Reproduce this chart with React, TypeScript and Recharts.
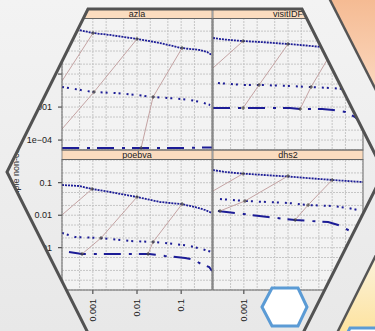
import React from 'react';
import { LineChart, Line, XAxis, YAxis, CartesianGrid } from 'recharts';

const X_MIN = 2e-4;
const X_MAX = 0.5;
const Y_MIN = 5e-5;
const Y_MAX = 0.5;
const gridX = [2e-4, 5e-4, 1e-3, 2e-3, 5e-3, 1e-2, 2e-2, 5e-2, 0.1, 0.2, 0.5];
const gridY = [5e-5, 1e-4, 2e-4, 5e-4, 1e-3, 2e-3, 5e-3, 1e-2, 2e-2, 5e-2, 0.1, 0.2, 0.5];
const xTickValues = [1e-3, 1e-2, 1e-1];
const xTickLabels = ['0.001', '0.01', '0.1'];
const yTickValues = [1e-4, 1e-3, 1e-2, 1e-1];
const yTickLabels = ['1e\u221204', '0.001', '0.01', '0.1'];
const panelNames = ['azla', 'visitIDF', 'poebva', 'dhs2'];
const yTitle = 'Sample non-coverage';

type Pt = [number, number];

// azla
const azlaTop: Pt[] = [[2e-4, 0.249], [4.85e-4, 0.216], [1.01e-3, 0.175], [2.45e-3, 0.153], [0.01, 0.116], [0.0333, 0.0873], [0.1, 0.0617], [0.269, 0.0536], [0.388, 0.0467], [0.5, 0.0379]];
const azlaMid: Pt[] = [[2e-4, 0.00406], [1.01e-3, 0.00286], [3.18e-3, 0.00267], [0.01, 0.00232], [0.0231, 0.00202], [0.1, 0.00176], [0.16, 0.00164], [0.269, 0.00143], [0.454, 0.00116]];
const azlaLow: Pt[] = [[2e-4, 5.75e-5], [0.01, 5.75e-5], [0.1, 5.75e-5], [0.5, 6.0e-5]];
const azlaLinks: Pt[][] = [
  [[2e-4, 0.00617], [1.01e-3, 0.175]],
  [[2e-4, 2.16e-4], [1.06e-3, 0.00286], [0.01, 0.116]],
  [[0.0124, 5.75e-5], [0.0231, 0.00202], [0.105, 0.0617]],
];

// visitIDF
const visitTop: Pt[] = [[2e-4, 0.124], [3.74e-4, 0.111], [9.6e-4, 0.1], [2.33e-3, 0.0937], [0.01, 0.0815], [0.0188, 0.076], [0.0593, 0.0661], [0.152, 0.0575], [0.5, 0.05]];
const visitMid: Pt[] = [[2.59e-4, 0.00536], [9.6e-4, 0.00467], [2.33e-3, 0.00467], [0.0111, 0.00435], [0.0317, 0.00406], [0.09, 0.00378], [0.197, 0.00352], [0.5, 0.00329]];
const visitLow: Pt[] = [[2e-4, 9.37e-4], [9.6e-4, 9.37e-4], [0.0111, 9.37e-4], [0.0188, 8.75e-4], [0.0593, 8.75e-4], [0.105, 8.15e-4], [0.2, 7.1e-4], [0.332, 5.0e-4], [0.5, 2.86e-4]];
const visitLinks: Pt[][] = [
  [[2e-4, 0.0153], [9.6e-4, 0.1]],
  [[9.6e-4, 9.37e-4], [2.21e-3, 0.00467], [0.01, 0.0815]],
  [[0.0188, 8.75e-4], [0.0333, 0.00406], [0.111, 0.0617]],
];

// poebva
const poebvaTop: Pt[] = [[2e-4, 0.0851], [4.85e-4, 0.0793], [9.6e-4, 0.0641], [2.45e-3, 0.0518], [0.01, 0.0364], [0.0333, 0.0255], [0.1, 0.0221], [0.207, 0.0179], [0.35, 0.0145], [0.5, 0.0117]];
const poebvaMid: Pt[] = [[2e-4, 0.00284], [3.94e-4, 0.00214], [1.46e-3, 0.00199], [6.97e-3, 0.00161], [0.0244, 0.0015], [0.073, 0.0013], [0.16, 0.00113], [0.35, 8.51e-4], [0.5, 7.38e-4]];
const poebvaLow: Pt[] = [[2.88e-4, 7.38e-4], [5.69e-4, 6.41e-4], [6.97e-3, 6.41e-4], [0.0188, 6.41e-4], [0.0434, 5.56e-4], [0.123, 4.83e-4], [0.207, 4.19e-4], [0.256, 3.39e-4], [0.431, 2.55e-4], [0.5, 1.92e-4]];
const poebvaLinks: Pt[][] = [
  [[2e-4, 0.0102], [9.6e-4, 0.0641]],
  [[5.69e-4, 6.41e-4], [1.53e-3, 0.00199], [0.01, 0.0364]],
  [[0.0178, 6.41e-4], [0.0231, 0.0015], [0.105, 0.0221]],
];

// dhs2
const dhs2Top: Pt[] = [[2e-4, 0.246], [3.74e-4, 0.214], [9.6e-4, 0.19], [0.01, 0.155], [0.105, 0.121], [0.5, 0.105]];
const dhs2Mid: Pt[] = [[2.88e-4, 0.0316], [1.06e-3, 0.0274], [0.01, 0.0238], [0.0285, 0.0206], [0.1, 0.0192], [0.23, 0.0167], [0.479, 0.0135]];
const dhs2Low: Pt[] = [[2.59e-4, 0.0135], [9.6e-4, 0.0109], [3.53e-3, 0.00881], [0.0145, 0.00713], [0.0317, 0.00664], [0.0811, 0.00618], [0.137, 0.005], [0.23, 0.00351], [0.284, 0.00305], [0.5, 0.00173]];
const dhs2Links: Pt[][] = [
  [[2e-4, 0.0556], [9.6e-4, 0.19]],
  [[2.88e-4, 0.0135], [1.06e-3, 0.0274], [0.01, 0.161]],
  [[0.0145, 0.00713], [0.0285, 0.0206], [0.1, 0.121]],
];

const FONT = '"Liberation Sans", Arial, Helvetica, sans-serif';
const BLUE = '#1c1c96';
const PINK = '#c4a3a3';

const toData = (pts: Pt[]) => pts.map(([x, y]) => ({ x, y }));

const XTick = (props: any) => {
  const { x, y, payload } = props;
  const i = xTickValues.indexOf(payload.value);
  if (i < 0) return <g />;
  const ty = y + 9;
  return (
    <g>
      <line x1={x} x2={x} y1={y} y2={y + 4} stroke="#333" strokeWidth={1} />
      <text x={x} y={ty} transform={`rotate(-90 ${x} ${ty})`} textAnchor="end" dominantBaseline="central" fontSize={9} fill="#222" fontFamily={FONT}>
        {xTickLabels[i]}
      </text>
    </g>
  );
};

const YTick = (props: any) => {
  const { x, y, payload } = props;
  const i = yTickValues.indexOf(payload.value);
  if (i < 0) return <g />;
  return (
    <g>
      <line x1={x - 4} x2={x} y1={y} y2={y} stroke="#333" strokeWidth={1} />
      <text x={x - 10} y={y} textAnchor="end" dominantBaseline="central" fontSize={9} fill="#222" fontFamily={FONT}>
        {yTickLabels[i]}
      </text>
    </g>
  );
};

const plus = (props: any) => {
  const { cx, cy, payload, index } = props;
  if (payload.x <= X_MIN || cx == null) return <g key={`p${index}`} />;
  return (
    <path key={`p${index}`} d={`M${cx - 2},${cy}H${cx + 2}M${cx},${cy - 2}V${cy + 2}`} stroke="#444" strokeWidth={0.9} fill="none" />
  );
};

type PanelProps = { col: number; row: number; top: Pt[]; mid: Pt[]; low: Pt[]; links: Pt[][] };

function Panel({ col, row, top, mid, low, links }: PanelProps) {
  const isLeft = col === 0;
  const isBottom = row === 1;
  const w = 150 + (isLeft ? 62 : 0);
  const h = (row === 0 ? 132 : 130) + (isBottom ? 40 : 0);
  return (
    <div style={{ position: 'absolute', left: isLeft ? 0 : 213, top: row === 0 ? 18 : 160 }}>
      <LineChart width={w} height={h} margin={{ top: 0, right: 0, bottom: 0, left: 0 }}>
        <CartesianGrid
          fill="#f3f3f3"
          fillOpacity={1}
          stroke="#c6c6c6"
          strokeDasharray="2 1"
          horizontalValues={gridY}
          verticalValues={gridX}
        />
        <XAxis
          dataKey="x"
          type="number"
          scale="log"
          domain={[X_MIN, X_MAX]}
          allowDataOverflow
          ticks={gridX}
          interval={0}
          hide={!isBottom}
          height={isBottom ? 40 : 0}
          tick={<XTick />}
          tickLine={false}
          axisLine={false}
          tickSize={0}
          tickMargin={0}
        />
        <YAxis
          dataKey="y"
          type="number"
          scale="log"
          domain={[Y_MIN, Y_MAX]}
          allowDataOverflow
          ticks={gridY}
          interval={0}
          hide={!isLeft}
          width={62}
          tick={<YTick />}
          tickLine={false}
          axisLine={false}
          tickSize={0}
          tickMargin={0}
        />
        <Line data={toData(low)} dataKey="y" type="linear" stroke={BLUE} strokeWidth={2} strokeDasharray="17 8 3 7" dot={false} activeDot={false} isAnimationActive={false} />
        <Line data={toData(mid)} dataKey="y" type="linear" stroke={BLUE} strokeWidth={2} strokeDasharray="2 3 2 6" dot={false} activeDot={false} isAnimationActive={false} />
        <Line data={toData(top)} dataKey="y" type="linear" stroke={BLUE} strokeWidth={1.8} strokeDasharray="2 1" dot={false} activeDot={false} isAnimationActive={false} />
        {links.map((l, i) => (
          <Line key={i} data={toData(l)} dataKey="y" type="linear" stroke={PINK} strokeWidth={1} dot={plus} activeDot={false} isAnimationActive={false} />
        ))}
      </LineChart>
    </div>
  );
}

const HEX = 'M88,9 L302,9 L384,172 L302,335 L89,335 L7,172 Z';

export default function App() {
  const strips = [
    { x: 62, y: 9 },
    { x: 213, y: 9 },
    { x: 62, y: 150 },
    { x: 213, y: 150 },
  ];
  return (
    <div
      style={{
        position: 'absolute',
        left: 0,
        top: 0,
        width: 375,
        height: 331,
        overflow: 'hidden',
        background: 'linear-gradient(to bottom, #f3f3f3, #e8e8e8)',
        fontFamily: FONT,
      }}
    >
      <Panel col={0} row={0} top={azlaTop} mid={azlaMid} low={azlaLow} links={azlaLinks} />
      <Panel col={1} row={0} top={visitTop} mid={visitMid} low={visitLow} links={visitLinks} />
      <Panel col={0} row={1} top={poebvaTop} mid={poebvaMid} low={poebvaLow} links={poebvaLinks} />
      <Panel col={1} row={1} top={dhs2Top} mid={dhs2Mid} low={dhs2Low} links={dhs2Links} />
      <svg width={375} height={331} style={{ position: 'absolute', left: 0, top: 0, pointerEvents: 'none' }}>
        <defs>
          <linearGradient id="bg" x1="0" y1="0" x2="0" y2="331" gradientUnits="userSpaceOnUse">
            <stop offset="0" stopColor="#f3f3f3" />
            <stop offset="1" stopColor="#e8e8e8" />
          </linearGradient>
          <linearGradient id="orange" x1="0" y1="0" x2="0" y2="90" gradientUnits="userSpaceOnUse">
            <stop offset="0" stopColor="#f5bb93" />
            <stop offset="1" stopColor="#fbd8bf" />
          </linearGradient>
          <linearGradient id="yellow" x1="0" y1="250" x2="0" y2="331" gradientUnits="userSpaceOnUse">
            <stop offset="0" stopColor="#fbf4e0" />
            <stop offset="1" stopColor="#fde3a0" />
          </linearGradient>
        </defs>
        {strips.map((s, i) => (
          <g key={i}>
            <rect x={s.x} y={s.y} width={150} height={9.5} fill="#fbdcbf" stroke="#777" strokeWidth={0.8} />
            <text x={s.x + 75} y={s.y + 5} textAnchor="middle" dominantBaseline="central" fontSize={9} fill="#222" fontFamily={FONT}>
              {panelNames[i]}
            </text>
          </g>
        ))}
        <rect x={62} y={18.5} width={150} height={131.5} fill="none" stroke="#666" strokeWidth={1} />
        <rect x={213} y={18.5} width={150} height={131.5} fill="none" stroke="#666" strokeWidth={1} />
        <rect x={62} y={159.5} width={150} height={130.5} fill="none" stroke="#666" strokeWidth={1} />
        <rect x={213} y={159.5} width={150} height={130.5} fill="none" stroke="#666" strokeWidth={1} />
        <text x={16} y={209} transform="rotate(-90 16 209)" textAnchor="start" dominantBaseline="central" fontSize={9} fill="#333" fontFamily={FONT}>
          {yTitle}
        </text>
        <path d={`M0,0 H375 V331 H0 Z ${HEX}`} fillRule="evenodd" fill="url(#bg)" />
        <polygon points="330,0 375,0 375,88" fill="url(#orange)" />
        <line x1={326} y1={-8} x2={380} y2={98} stroke="#555" strokeWidth={2.5} />
        <polygon points="375,257 338,331 375,331" fill="url(#yellow)" />
        <line x1={380} y1={247} x2={333} y2={341} stroke="#555" strokeWidth={2.5} />
        <path d={HEX} fill="none" stroke="#525252" strokeWidth={3} />
        <polygon points="262,307 272,288 298,288 307,307 298,326 272,326" fill="#ffffff" stroke="#5b9bd5" strokeWidth={3} />
        <polygon points="344,340 350,328 385,328 391,340" fill="#ffffff" stroke="#5b9bd5" strokeWidth={3} />
      </svg>
    </div>
  );
}
